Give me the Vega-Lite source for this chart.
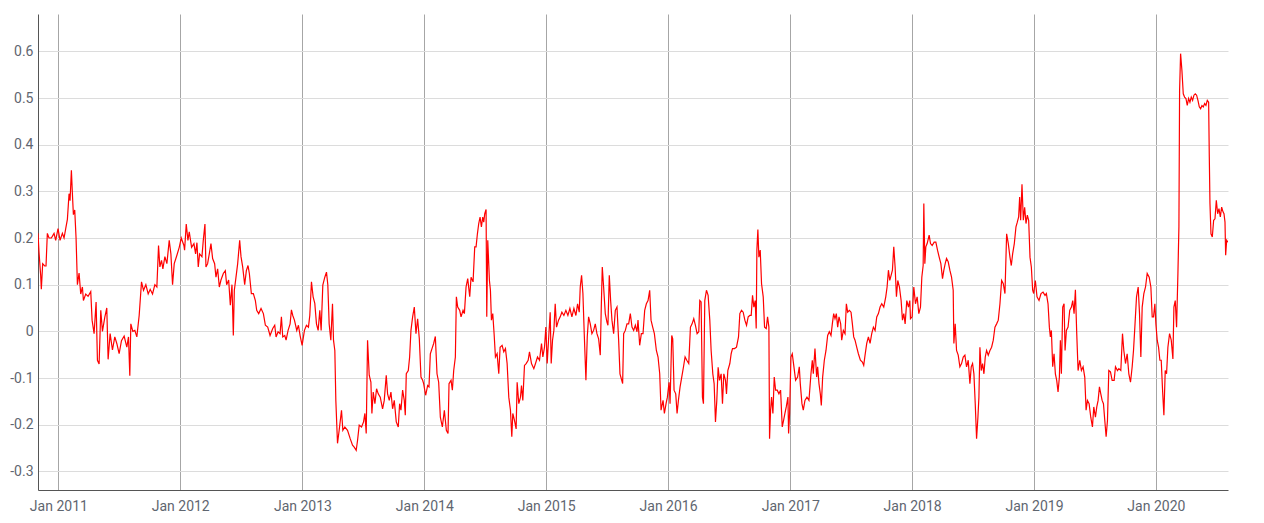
{
"$schema": "https://vega.github.io/schema/vega-lite/v6.json",
"width": 1190, "height": 476,
"autosize": "none",
"padding": {"left": 38, "top": 14, "right": 36, "bottom": 33},
"background": "white",
"config": {"view": {"stroke": null}},
"data": {"values": [
{"date":"2010-11-01","value":0.21},{"date":"2010-11-04","value":0.17},{"date":"2010-11-09","value":0.12},{"date":"2010-11-11","value":0.09},{"date":"2010-11-15","value":0.145},{"date":"2010-11-21","value":0.14},{"date":"2010-11-25","value":0.14},{"date":"2010-11-29","value":0.21},{"date":"2010-12-04","value":0.2},{"date":"2010-12-11","value":0.2},{"date":"2010-12-19","value":0.21},{"date":"2010-12-24","value":0.195},{"date":"2010-12-31","value":0.22},
{"date":"2011-01-06","value":0.195},{"date":"2011-01-13","value":0.21},{"date":"2011-01-18","value":0.2},{"date":"2011-01-23","value":0.22},{"date":"2011-01-28","value":0.24},{"date":"2011-02-02","value":0.295},{"date":"2011-02-05","value":0.28},{"date":"2011-02-09","value":0.345},{"date":"2011-02-12","value":0.295},{"date":"2011-02-15","value":0.25},{"date":"2011-02-19","value":0.26},{"date":"2011-02-23","value":0.2},{"date":"2011-02-27","value":0.1},{"date":"2011-03-04","value":0.125},{"date":"2011-03-09","value":0.08},{"date":"2011-03-14","value":0.095},{"date":"2011-03-17","value":0.066},{"date":"2011-03-24","value":0.08},{"date":"2011-03-31","value":0.075},{"date":"2011-04-08","value":0.085},{"date":"2011-04-12","value":0.024},{"date":"2011-04-18","value":-0.005},{"date":"2011-04-24","value":0.063},{"date":"2011-04-28","value":-0.062},{"date":"2011-05-03","value":-0.07},{"date":"2011-05-08","value":0.045},{"date":"2011-05-13","value":0.0},{"date":"2011-05-20","value":0.03},{"date":"2011-05-26","value":0.05},{"date":"2011-05-30","value":-0.06},{"date":"2011-06-05","value":-0.005},{"date":"2011-06-12","value":-0.04},{"date":"2011-06-19","value":-0.012},{"date":"2011-06-25","value":-0.026},{"date":"2011-07-02","value":-0.048},{"date":"2011-07-09","value":-0.02},{"date":"2011-07-17","value":-0.01},{"date":"2011-07-25","value":-0.034},{"date":"2011-07-30","value":-0.012},{"date":"2011-08-03","value":-0.095},{"date":"2011-08-06","value":0.016},{"date":"2011-08-12","value":0.0},{"date":"2011-08-18","value":0.002},{"date":"2011-08-24","value":-0.012},{"date":"2011-08-31","value":0.034},{"date":"2011-09-07","value":0.106},{"date":"2011-09-13","value":0.088},{"date":"2011-09-20","value":0.1},{"date":"2011-09-27","value":0.08},{"date":"2011-10-03","value":0.09},{"date":"2011-10-10","value":0.08},{"date":"2011-10-17","value":0.1},{"date":"2011-10-23","value":0.095},{"date":"2011-10-28","value":0.184},{"date":"2011-11-01","value":0.138},{"date":"2011-11-06","value":0.152},{"date":"2011-11-10","value":0.134},{"date":"2011-11-16","value":0.16},{"date":"2011-11-22","value":0.145},{"date":"2011-11-29","value":0.195},{"date":"2011-12-04","value":0.166},{"date":"2011-12-09","value":0.1},{"date":"2011-12-14","value":0.145},{"date":"2011-12-22","value":0.163},{"date":"2011-12-29","value":0.18},
{"date":"2012-01-04","value":0.2},{"date":"2012-01-12","value":0.184},{"date":"2012-01-14","value":0.174},{"date":"2012-01-19","value":0.23},{"date":"2012-01-24","value":0.195},{"date":"2012-01-28","value":0.213},{"date":"2012-02-04","value":0.18},{"date":"2012-02-11","value":0.188},{"date":"2012-02-16","value":0.166},{"date":"2012-02-20","value":0.19},{"date":"2012-02-24","value":0.138},{"date":"2012-02-28","value":0.166},{"date":"2012-03-06","value":0.16},{"date":"2012-03-10","value":0.195},{"date":"2012-03-15","value":0.23},{"date":"2012-03-18","value":0.138},{"date":"2012-03-23","value":0.145},{"date":"2012-03-28","value":0.166},{"date":"2012-04-02","value":0.188},{"date":"2012-04-07","value":0.156},{"date":"2012-04-13","value":0.145},{"date":"2012-04-17","value":0.116},{"date":"2012-04-22","value":0.134},{"date":"2012-04-27","value":0.095},{"date":"2012-05-02","value":0.11},{"date":"2012-05-09","value":0.124},{"date":"2012-05-15","value":0.13},{"date":"2012-05-19","value":0.1},{"date":"2012-05-25","value":0.11},{"date":"2012-05-30","value":0.056},{"date":"2012-06-04","value":0.1},{"date":"2012-06-08","value":-0.009},{"date":"2012-06-11","value":0.088},{"date":"2012-06-16","value":0.116},{"date":"2012-06-21","value":0.145},{"date":"2012-06-27","value":0.195},{"date":"2012-07-01","value":0.16},{"date":"2012-07-06","value":0.138},{"date":"2012-07-12","value":0.1},{"date":"2012-07-17","value":0.13},{"date":"2012-07-22","value":0.141},{"date":"2012-07-26","value":0.124},{"date":"2012-08-01","value":0.081},{"date":"2012-08-07","value":0.081},{"date":"2012-08-13","value":0.066},{"date":"2012-08-17","value":0.045},{"date":"2012-08-23","value":0.038},{"date":"2012-08-30","value":0.049},{"date":"2012-09-06","value":0.038},{"date":"2012-09-12","value":0.013},{"date":"2012-09-19","value":0.009},{"date":"2012-09-26","value":-0.009},{"date":"2012-10-04","value":0.006},{"date":"2012-10-10","value":0.013},{"date":"2012-10-14","value":-0.012},{"date":"2012-10-20","value":-0.001},{"date":"2012-10-26","value":-0.005},{"date":"2012-10-30","value":0.031},{"date":"2012-11-03","value":-0.012},{"date":"2012-11-09","value":-0.009},{"date":"2012-11-13","value":-0.019},{"date":"2012-11-19","value":0.002},{"date":"2012-11-25","value":0.016},{"date":"2012-11-29","value":0.046},{"date":"2012-12-03","value":0.034},{"date":"2012-12-08","value":0.024},{"date":"2012-12-15","value":0.002},{"date":"2012-12-20","value":0.013},{"date":"2012-12-25","value":-0.009},{"date":"2012-12-31","value":-0.03},
{"date":"2013-01-07","value":0.002},{"date":"2013-01-13","value":0.013},{"date":"2013-01-19","value":0.009},{"date":"2013-01-23","value":0.034},{"date":"2013-01-28","value":0.106},{"date":"2013-02-02","value":0.074},{"date":"2013-02-07","value":0.06},{"date":"2013-02-12","value":0.016},{"date":"2013-02-17","value":0.002},{"date":"2013-02-22","value":0.045},{"date":"2013-02-26","value":0.002},{"date":"2013-03-03","value":0.099},{"date":"2013-03-09","value":0.116},{"date":"2013-03-14","value":0.127},{"date":"2013-03-18","value":0.1},{"date":"2013-03-22","value":0.016},{"date":"2013-03-27","value":-0.019},{"date":"2013-04-01","value":0.059},{"date":"2013-04-04","value":-0.019},{"date":"2013-04-08","value":-0.041},{"date":"2013-04-11","value":-0.148},{"date":"2013-04-16","value":-0.24},{"date":"2013-04-21","value":-0.212},{"date":"2013-04-28","value":-0.169},{"date":"2013-05-02","value":-0.212},{"date":"2013-05-08","value":-0.205},{"date":"2013-05-16","value":-0.212},{"date":"2013-05-24","value":-0.23},{"date":"2013-05-31","value":-0.244},{"date":"2013-06-05","value":-0.248},{"date":"2013-06-11","value":-0.255},{"date":"2013-06-15","value":-0.234},{"date":"2013-06-20","value":-0.201},{"date":"2013-06-27","value":-0.205},{"date":"2013-07-03","value":-0.194},{"date":"2013-07-07","value":-0.176},{"date":"2013-07-11","value":-0.219},{"date":"2013-07-15","value":-0.019},{"date":"2013-07-20","value":-0.094},{"date":"2013-07-25","value":-0.109},{"date":"2013-07-28","value":-0.176},{"date":"2013-08-01","value":-0.13},{"date":"2013-08-06","value":-0.155},{"date":"2013-08-11","value":-0.123},{"date":"2013-08-16","value":-0.134},{"date":"2013-08-22","value":-0.141},{"date":"2013-08-29","value":-0.166},{"date":"2013-09-03","value":-0.148},{"date":"2013-09-09","value":-0.094},{"date":"2013-09-13","value":-0.134},{"date":"2013-09-18","value":-0.148},{"date":"2013-09-23","value":-0.13},{"date":"2013-09-28","value":-0.166},{"date":"2013-10-03","value":-0.148},{"date":"2013-10-09","value":-0.194},{"date":"2013-10-15","value":-0.205},{"date":"2013-10-19","value":-0.155},{"date":"2013-10-23","value":-0.169},{"date":"2013-10-28","value":-0.126},{"date":"2013-11-02","value":-0.148},{"date":"2013-11-05","value":-0.18},{"date":"2013-11-08","value":-0.091},{"date":"2013-11-14","value":-0.084},{"date":"2013-11-18","value":-0.055},{"date":"2013-11-22","value":0.002},{"date":"2013-11-27","value":0.031},{"date":"2013-12-02","value":0.052},{"date":"2013-12-07","value":-0.005},{"date":"2013-12-12","value":0.027},{"date":"2013-12-17","value":-0.016},{"date":"2013-12-22","value":-0.098},{"date":"2013-12-27","value":-0.105},{"date":"2013-12-30","value":-0.112},
{"date":"2014-01-05","value":-0.137},{"date":"2014-01-11","value":-0.116},{"date":"2014-01-15","value":-0.119},{"date":"2014-01-19","value":-0.048},{"date":"2014-01-24","value":-0.037},{"date":"2014-01-29","value":-0.026},{"date":"2014-02-03","value":-0.011},{"date":"2014-02-08","value":-0.091},{"date":"2014-02-13","value":-0.109},{"date":"2014-02-18","value":-0.184},{"date":"2014-02-24","value":-0.205},{"date":"2014-03-02","value":-0.169},{"date":"2014-03-08","value":-0.212},{"date":"2014-03-13","value":-0.219},{"date":"2014-03-16","value":-0.112},{"date":"2014-03-22","value":-0.105},{"date":"2014-03-26","value":-0.126},{"date":"2014-03-30","value":-0.084},{"date":"2014-04-04","value":-0.055},{"date":"2014-04-07","value":0.074},{"date":"2014-04-11","value":0.052},{"date":"2014-04-17","value":0.045},{"date":"2014-04-21","value":0.031},{"date":"2014-04-27","value":0.045},{"date":"2014-05-01","value":0.038},{"date":"2014-05-06","value":0.095},{"date":"2014-05-11","value":0.113},{"date":"2014-05-17","value":0.074},{"date":"2014-05-21","value":0.116},{"date":"2014-05-27","value":0.106},{"date":"2014-06-01","value":0.181},{"date":"2014-06-05","value":0.181},{"date":"2014-06-09","value":0.209},{"date":"2014-06-13","value":0.231},{"date":"2014-06-17","value":0.245},{"date":"2014-06-21","value":0.224},{"date":"2014-06-25","value":0.245},{"date":"2014-06-28","value":0.234},{"date":"2014-07-01","value":0.252},{"date":"2014-07-05","value":0.261},{"date":"2014-07-07","value":0.031},{"date":"2014-07-10","value":0.195},{"date":"2014-07-15","value":0.109},{"date":"2014-07-18","value":0.088},{"date":"2014-07-21","value":0.024},{"date":"2014-07-25","value":0.038},{"date":"2014-07-29","value":-0.005},{"date":"2014-08-02","value":-0.055},{"date":"2014-08-07","value":-0.048},{"date":"2014-08-12","value":-0.091},{"date":"2014-08-16","value":-0.034},{"date":"2014-08-22","value":-0.03},{"date":"2014-08-27","value":-0.044},{"date":"2014-09-01","value":-0.037},{"date":"2014-09-06","value":-0.069},{"date":"2014-09-11","value":-0.141},{"date":"2014-09-16","value":-0.169},{"date":"2014-09-20","value":-0.226},{"date":"2014-09-23","value":-0.176},{"date":"2014-09-28","value":-0.191},{"date":"2014-10-03","value":-0.209},{"date":"2014-10-06","value":-0.109},{"date":"2014-10-11","value":-0.155},{"date":"2014-10-16","value":-0.141},{"date":"2014-10-19","value":-0.116},{"date":"2014-10-23","value":-0.148},{"date":"2014-10-28","value":-0.073},{"date":"2014-11-02","value":-0.069},{"date":"2014-11-08","value":-0.062},{"date":"2014-11-12","value":-0.044},{"date":"2014-11-18","value":-0.069},{"date":"2014-11-25","value":-0.08},{"date":"2014-11-30","value":-0.069},{"date":"2014-12-06","value":-0.055},{"date":"2014-12-12","value":-0.062},{"date":"2014-12-18","value":-0.026},{"date":"2014-12-22","value":-0.055},{"date":"2014-12-27","value":-0.034},{"date":"2014-12-31","value":0.009},
{"date":"2015-01-04","value":-0.069},{"date":"2015-01-08","value":-0.019},{"date":"2015-01-13","value":0.041},{"date":"2015-01-16","value":-0.069},{"date":"2015-01-20","value":-0.019},{"date":"2015-01-24","value":0.002},{"date":"2015-01-28","value":0.059},{"date":"2015-02-01","value":0.009},{"date":"2015-02-07","value":0.024},{"date":"2015-02-12","value":0.031},{"date":"2015-02-17","value":0.041},{"date":"2015-02-23","value":0.034},{"date":"2015-03-01","value":0.045},{"date":"2015-03-07","value":0.034},{"date":"2015-03-13","value":0.049},{"date":"2015-03-19","value":0.031},{"date":"2015-03-25","value":0.049},{"date":"2015-03-31","value":0.034},{"date":"2015-04-05","value":0.059},{"date":"2015-04-10","value":0.041},{"date":"2015-04-13","value":0.095},{"date":"2015-04-17","value":0.12},{"date":"2015-04-21","value":0.081},{"date":"2015-04-25","value":-0.005},{"date":"2015-04-30","value":-0.105},{"date":"2015-05-04","value":-0.012},{"date":"2015-05-08","value":0.031},{"date":"2015-05-13","value":0.016},{"date":"2015-05-18","value":-0.005},{"date":"2015-05-23","value":0.002},{"date":"2015-05-28","value":0.016},{"date":"2015-06-02","value":-0.005},{"date":"2015-06-07","value":-0.016},{"date":"2015-06-12","value":-0.051},{"date":"2015-06-15","value":0.052},{"date":"2015-06-18","value":0.138},{"date":"2015-06-22","value":0.095},{"date":"2015-06-27","value":0.038},{"date":"2015-07-02","value":0.02},{"date":"2015-07-05","value":0.013},{"date":"2015-07-09","value":0.12},{"date":"2015-07-13","value":0.066},{"date":"2015-07-17","value":0.024},{"date":"2015-07-22","value":-0.005},{"date":"2015-07-27","value":0.045},{"date":"2015-08-01","value":0.052},{"date":"2015-08-06","value":-0.019},{"date":"2015-08-10","value":-0.091},{"date":"2015-08-18","value":-0.112},{"date":"2015-08-21","value":-0.005},{"date":"2015-08-26","value":0.002},{"date":"2015-08-31","value":0.016},{"date":"2015-09-05","value":0.016},{"date":"2015-09-10","value":0.038},{"date":"2015-09-15","value":0.009},{"date":"2015-09-20","value":0.002},{"date":"2015-09-25","value":0.013},{"date":"2015-09-30","value":-0.001},{"date":"2015-10-03","value":0.024},{"date":"2015-10-08","value":-0.03},{"date":"2015-10-13","value":-0.005},{"date":"2015-10-18","value":-0.005},{"date":"2015-10-23","value":0.045},{"date":"2015-10-28","value":0.059},{"date":"2015-11-02","value":0.066},{"date":"2015-11-07","value":0.088},{"date":"2015-11-11","value":0.024},{"date":"2015-11-16","value":0.009},{"date":"2015-11-21","value":-0.005},{"date":"2015-11-27","value":-0.041},{"date":"2015-12-02","value":-0.055},{"date":"2015-12-07","value":-0.091},{"date":"2015-12-11","value":-0.169},{"date":"2015-12-17","value":-0.148},{"date":"2015-12-21","value":-0.176},{"date":"2015-12-26","value":-0.155},{"date":"2015-12-30","value":-0.141},
{"date":"2016-01-04","value":-0.109},{"date":"2016-01-07","value":-0.155},{"date":"2016-01-12","value":-0.009},{"date":"2016-01-15","value":-0.016},{"date":"2016-01-19","value":-0.126},{"date":"2016-01-24","value":-0.134},{"date":"2016-01-28","value":-0.176},{"date":"2016-02-01","value":-0.148},{"date":"2016-02-06","value":-0.119},{"date":"2016-02-11","value":-0.098},{"date":"2016-02-16","value":-0.077},{"date":"2016-02-21","value":-0.055},{"date":"2016-02-26","value":-0.062},{"date":"2016-03-03","value":-0.069},{"date":"2016-03-08","value":0.009},{"date":"2016-03-13","value":0.016},{"date":"2016-03-18","value":0.027},{"date":"2016-03-23","value":0.013},{"date":"2016-03-28","value":-0.005},{"date":"2016-04-02","value":-0.001},{"date":"2016-04-05","value":0.066},{"date":"2016-04-09","value":0.063},{"date":"2016-04-13","value":-0.141},{"date":"2016-04-16","value":-0.155},{"date":"2016-04-20","value":0.066},{"date":"2016-04-25","value":0.088},{"date":"2016-04-30","value":0.077},{"date":"2016-05-05","value":0.024},{"date":"2016-05-09","value":-0.041},{"date":"2016-05-14","value":-0.091},{"date":"2016-05-18","value":-0.112},{"date":"2016-05-22","value":-0.194},{"date":"2016-05-26","value":-0.148},{"date":"2016-05-30","value":-0.077},{"date":"2016-06-03","value":-0.105},{"date":"2016-06-08","value":-0.091},{"date":"2016-06-12","value":-0.155},{"date":"2016-06-16","value":-0.091},{"date":"2016-06-21","value":-0.105},{"date":"2016-06-24","value":-0.134},{"date":"2016-06-28","value":-0.084},{"date":"2016-07-04","value":-0.069},{"date":"2016-07-08","value":-0.048},{"date":"2016-07-12","value":-0.037},{"date":"2016-07-18","value":-0.037},{"date":"2016-07-24","value":-0.034},{"date":"2016-07-30","value":-0.012},{"date":"2016-08-03","value":0.038},{"date":"2016-08-08","value":0.045},{"date":"2016-08-13","value":0.041},{"date":"2016-08-18","value":0.024},{"date":"2016-08-23","value":0.013},{"date":"2016-08-28","value":0.031},{"date":"2016-09-02","value":0.034},{"date":"2016-09-06","value":0.034},{"date":"2016-09-10","value":0.077},{"date":"2016-09-14","value":0.052},{"date":"2016-09-18","value":0.066},{"date":"2016-09-21","value":0.006},{"date":"2016-09-23","value":0.174},{"date":"2016-09-26","value":0.218},{"date":"2016-09-29","value":0.159},{"date":"2016-10-03","value":0.174},{"date":"2016-10-07","value":0.102},{"date":"2016-10-12","value":0.074},{"date":"2016-10-16","value":0.009},{"date":"2016-10-21","value":0.006},{"date":"2016-10-25","value":0.031},{"date":"2016-10-29","value":0.009},{"date":"2016-10-31","value":-0.23},{"date":"2016-11-03","value":-0.169},{"date":"2016-11-06","value":-0.141},{"date":"2016-11-10","value":-0.176},{"date":"2016-11-14","value":-0.098},{"date":"2016-11-18","value":-0.126},{"date":"2016-11-23","value":-0.126},{"date":"2016-11-28","value":-0.134},{"date":"2016-12-03","value":-0.126},{"date":"2016-12-08","value":-0.205},{"date":"2016-12-12","value":-0.191},{"date":"2016-12-16","value":-0.176},{"date":"2016-12-20","value":-0.162},{"date":"2016-12-25","value":-0.141},{"date":"2016-12-27","value":-0.219},{"date":"2016-12-30","value":-0.176},
{"date":"2017-01-03","value":-0.055},{"date":"2017-01-07","value":-0.048},{"date":"2017-01-12","value":-0.076},{"date":"2017-01-17","value":-0.105},{"date":"2017-01-23","value":-0.098},{"date":"2017-01-28","value":-0.076},{"date":"2017-01-31","value":-0.112},{"date":"2017-02-05","value":-0.155},{"date":"2017-02-09","value":-0.169},{"date":"2017-02-14","value":-0.148},{"date":"2017-02-20","value":-0.141},{"date":"2017-02-26","value":-0.148},{"date":"2017-03-04","value":-0.091},{"date":"2017-03-08","value":-0.062},{"date":"2017-03-11","value":-0.091},{"date":"2017-03-16","value":-0.037},{"date":"2017-03-21","value":-0.098},{"date":"2017-03-24","value":-0.076},{"date":"2017-03-28","value":-0.112},{"date":"2017-04-01","value":-0.134},{"date":"2017-04-04","value":-0.159},{"date":"2017-04-08","value":-0.098},{"date":"2017-04-13","value":-0.062},{"date":"2017-04-18","value":-0.041},{"date":"2017-04-23","value":-0.009},{"date":"2017-04-28","value":-0.001},{"date":"2017-05-03","value":-0.009},{"date":"2017-05-07","value":0.016},{"date":"2017-05-11","value":0.038},{"date":"2017-05-15","value":0.027},{"date":"2017-05-19","value":0.038},{"date":"2017-05-23","value":0.009},{"date":"2017-05-27","value":0.031},{"date":"2017-06-01","value":0.016},{"date":"2017-06-04","value":-0.019},{"date":"2017-06-09","value":0.002},{"date":"2017-06-14","value":-0.005},{"date":"2017-06-18","value":0.059},{"date":"2017-06-22","value":0.041},{"date":"2017-06-27","value":0.045},{"date":"2017-07-02","value":0.041},{"date":"2017-07-06","value":0.016},{"date":"2017-07-10","value":-0.012},{"date":"2017-07-14","value":-0.019},{"date":"2017-07-19","value":-0.034},{"date":"2017-07-24","value":-0.048},{"date":"2017-07-30","value":-0.062},{"date":"2017-08-05","value":-0.066},{"date":"2017-08-09","value":-0.073},{"date":"2017-08-13","value":-0.051},{"date":"2017-08-18","value":-0.026},{"date":"2017-08-23","value":-0.012},{"date":"2017-08-28","value":-0.026},{"date":"2017-09-02","value":-0.005},{"date":"2017-09-07","value":0.009},{"date":"2017-09-12","value":0.002},{"date":"2017-09-17","value":0.031},{"date":"2017-09-22","value":0.038},{"date":"2017-09-27","value":0.052},{"date":"2017-10-02","value":0.059},{"date":"2017-10-08","value":0.052},{"date":"2017-10-14","value":0.074},{"date":"2017-10-18","value":0.095},{"date":"2017-10-22","value":0.131},{"date":"2017-10-26","value":0.109},{"date":"2017-10-30","value":0.12},{"date":"2017-11-03","value":0.131},{"date":"2017-11-07","value":0.181},{"date":"2017-11-11","value":0.138},{"date":"2017-11-15","value":0.074},{"date":"2017-11-19","value":0.109},{"date":"2017-11-24","value":0.095},{"date":"2017-11-29","value":0.066},{"date":"2017-12-03","value":0.024},{"date":"2017-12-07","value":0.038},{"date":"2017-12-11","value":0.016},{"date":"2017-12-16","value":0.066},{"date":"2017-12-21","value":0.052},{"date":"2017-12-25","value":0.066},{"date":"2017-12-27","value":0.027},
{"date":"2018-01-01","value":0.031},{"date":"2018-01-06","value":0.095},{"date":"2018-01-11","value":0.059},{"date":"2018-01-16","value":0.074},{"date":"2018-01-21","value":0.038},{"date":"2018-01-26","value":0.052},{"date":"2018-01-30","value":0.116},{"date":"2018-02-03","value":0.141},{"date":"2018-02-05","value":0.274},{"date":"2018-02-08","value":0.145},{"date":"2018-02-11","value":0.181},{"date":"2018-02-15","value":0.188},{"date":"2018-02-21","value":0.206},{"date":"2018-02-25","value":0.188},{"date":"2018-03-02","value":0.184},{"date":"2018-03-08","value":0.191},{"date":"2018-03-13","value":0.191},{"date":"2018-03-18","value":0.174},{"date":"2018-03-23","value":0.159},{"date":"2018-03-28","value":0.145},{"date":"2018-04-02","value":0.113},{"date":"2018-04-06","value":0.131},{"date":"2018-04-10","value":0.145},{"date":"2018-04-14","value":0.156},{"date":"2018-04-19","value":0.149},{"date":"2018-04-24","value":0.131},{"date":"2018-04-29","value":0.116},{"date":"2018-05-04","value":0.088},{"date":"2018-05-06","value":-0.026},{"date":"2018-05-10","value":0.016},{"date":"2018-05-14","value":-0.041},{"date":"2018-05-19","value":-0.051},{"date":"2018-05-24","value":-0.076},{"date":"2018-05-29","value":-0.069},{"date":"2018-06-03","value":-0.055},{"date":"2018-06-08","value":-0.051},{"date":"2018-06-13","value":-0.076},{"date":"2018-06-18","value":-0.062},{"date":"2018-06-23","value":-0.112},{"date":"2018-06-27","value":-0.076},{"date":"2018-07-01","value":-0.069},{"date":"2018-07-05","value":-0.091},{"date":"2018-07-09","value":-0.155},{"date":"2018-07-13","value":-0.23},{"date":"2018-07-17","value":-0.184},{"date":"2018-07-20","value":-0.141},{"date":"2018-07-23","value":-0.034},{"date":"2018-07-27","value":-0.084},{"date":"2018-07-31","value":-0.069},{"date":"2018-08-04","value":-0.091},{"date":"2018-08-08","value":-0.055},{"date":"2018-08-12","value":-0.041},{"date":"2018-08-17","value":-0.051},{"date":"2018-08-22","value":-0.041},{"date":"2018-08-27","value":-0.034},{"date":"2018-09-01","value":-0.019},{"date":"2018-09-06","value":0.009},{"date":"2018-09-11","value":0.016},{"date":"2018-09-16","value":0.024},{"date":"2018-09-21","value":0.059},{"date":"2018-09-26","value":0.109},{"date":"2018-10-01","value":0.102},{"date":"2018-10-06","value":0.081},{"date":"2018-10-11","value":0.209},{"date":"2018-10-16","value":0.188},{"date":"2018-10-21","value":0.159},{"date":"2018-10-25","value":0.141},{"date":"2018-10-29","value":0.166},{"date":"2018-11-03","value":0.188},{"date":"2018-11-08","value":0.224},{"date":"2018-11-12","value":0.234},{"date":"2018-11-16","value":0.245},{"date":"2018-11-19","value":0.288},{"date":"2018-11-22","value":0.238},{"date":"2018-11-26","value":0.315},{"date":"2018-11-30","value":0.238},{"date":"2018-12-04","value":0.266},{"date":"2018-12-08","value":0.231},{"date":"2018-12-12","value":0.249},{"date":"2018-12-16","value":0.238},{"date":"2018-12-20","value":0.159},{"date":"2018-12-24","value":0.138},{"date":"2018-12-28","value":0.088},{"date":"2018-12-31","value":0.081},
{"date":"2019-01-05","value":0.109},{"date":"2019-01-10","value":0.074},{"date":"2019-01-16","value":0.066},{"date":"2019-01-22","value":0.081},{"date":"2019-01-28","value":0.084},{"date":"2019-02-03","value":0.077},{"date":"2019-02-07","value":0.081},{"date":"2019-02-12","value":0.059},{"date":"2019-02-16","value":0.009},{"date":"2019-02-19","value":-0.012},{"date":"2019-02-22","value":0.002},{"date":"2019-02-26","value":-0.076},{"date":"2019-03-02","value":-0.048},{"date":"2019-03-06","value":-0.091},{"date":"2019-03-10","value":-0.105},{"date":"2019-03-14","value":-0.13},{"date":"2019-03-18","value":-0.098},{"date":"2019-03-21","value":-0.019},{"date":"2019-03-24","value":-0.091},{"date":"2019-03-28","value":0.052},{"date":"2019-04-01","value":0.059},{"date":"2019-04-04","value":-0.041},{"date":"2019-04-08","value":0.002},{"date":"2019-04-13","value":0.009},{"date":"2019-04-18","value":0.045},{"date":"2019-04-23","value":0.052},{"date":"2019-04-27","value":0.066},{"date":"2019-05-01","value":0.038},{"date":"2019-05-05","value":0.089},{"date":"2019-05-09","value":-0.005},{"date":"2019-05-13","value":-0.084},{"date":"2019-05-18","value":-0.062},{"date":"2019-05-23","value":-0.084},{"date":"2019-05-28","value":-0.076},{"date":"2019-06-02","value":-0.098},{"date":"2019-06-06","value":-0.169},{"date":"2019-06-10","value":-0.148},{"date":"2019-06-15","value":-0.155},{"date":"2019-06-20","value":-0.184},{"date":"2019-06-25","value":-0.205},{"date":"2019-06-29","value":-0.162},{"date":"2019-07-04","value":-0.184},{"date":"2019-07-08","value":-0.162},{"date":"2019-07-12","value":-0.148},{"date":"2019-07-16","value":-0.119},{"date":"2019-07-20","value":-0.134},{"date":"2019-07-24","value":-0.148},{"date":"2019-07-28","value":-0.155},{"date":"2019-08-01","value":-0.191},{"date":"2019-08-05","value":-0.226},{"date":"2019-08-09","value":-0.191},{"date":"2019-08-13","value":-0.084},{"date":"2019-08-18","value":-0.087},{"date":"2019-08-23","value":-0.105},{"date":"2019-08-29","value":-0.105},{"date":"2019-09-02","value":-0.076},{"date":"2019-09-08","value":-0.084},{"date":"2019-09-12","value":-0.08},{"date":"2019-09-18","value":-0.084},{"date":"2019-09-23","value":-0.005},{"date":"2019-09-27","value":-0.041},{"date":"2019-10-02","value":-0.069},{"date":"2019-10-07","value":-0.048},{"date":"2019-10-12","value":-0.091},{"date":"2019-10-17","value":-0.109},{"date":"2019-10-22","value":-0.076},{"date":"2019-10-26","value":-0.041},{"date":"2019-10-30","value":0.009},{"date":"2019-11-04","value":0.074},{"date":"2019-11-09","value":0.095},{"date":"2019-11-13","value":0.038},{"date":"2019-11-17","value":-0.055},{"date":"2019-11-21","value":0.052},{"date":"2019-11-26","value":0.081},{"date":"2019-12-01","value":0.095},{"date":"2019-12-06","value":0.124},{"date":"2019-12-12","value":0.116},{"date":"2019-12-17","value":0.095},{"date":"2019-12-21","value":0.031},{"date":"2019-12-25","value":0.031},{"date":"2019-12-29","value":0.059},
{"date":"2020-01-01","value":0.016},{"date":"2020-01-05","value":-0.019},{"date":"2020-01-09","value":-0.034},{"date":"2020-01-13","value":-0.062},{"date":"2020-01-17","value":-0.062},{"date":"2020-01-21","value":-0.126},{"date":"2020-01-25","value":-0.18},{"date":"2020-01-29","value":-0.084},{"date":"2020-02-02","value":-0.091},{"date":"2020-02-06","value":-0.034},{"date":"2020-02-11","value":-0.005},{"date":"2020-02-16","value":-0.019},{"date":"2020-02-21","value":-0.059},{"date":"2020-02-24","value":0.052},{"date":"2020-02-28","value":0.066},{"date":"2020-03-03","value":0.009},{"date":"2020-03-07","value":0.124},{"date":"2020-03-10","value":0.224},{"date":"2020-03-12","value":0.516},{"date":"2020-03-15","value":0.595},{"date":"2020-03-19","value":0.559},{"date":"2020-03-23","value":0.509},{"date":"2020-03-27","value":0.502},{"date":"2020-03-31","value":0.499},{"date":"2020-04-04","value":0.484},{"date":"2020-04-08","value":0.499},{"date":"2020-04-12","value":0.491},{"date":"2020-04-16","value":0.502},{"date":"2020-04-20","value":0.495},{"date":"2020-04-24","value":0.506},{"date":"2020-04-28","value":0.509},{"date":"2020-05-02","value":0.506},{"date":"2020-05-06","value":0.495},{"date":"2020-05-10","value":0.481},{"date":"2020-05-14","value":0.477},{"date":"2020-05-18","value":0.484},{"date":"2020-05-22","value":0.481},{"date":"2020-05-26","value":0.488},{"date":"2020-05-30","value":0.484},{"date":"2020-06-03","value":0.495},{"date":"2020-06-07","value":0.491},{"date":"2020-06-09","value":0.374},{"date":"2020-06-11","value":0.274},{"date":"2020-06-14","value":0.209},{"date":"2020-06-18","value":0.202},{"date":"2020-06-22","value":0.238},{"date":"2020-06-26","value":0.241},{"date":"2020-06-30","value":0.281},{"date":"2020-07-04","value":0.252},{"date":"2020-07-08","value":0.263},{"date":"2020-07-12","value":0.245},{"date":"2020-07-16","value":0.266},{"date":"2020-07-20","value":0.256},{"date":"2020-07-23","value":0.252},{"date":"2020-07-26","value":0.234},{"date":"2020-07-28","value":0.163},{"date":"2020-07-31","value":0.195},{"date":"2020-08-04","value":0.191}
]},
"mark": {"type": "line", "color": "#ff0000", "strokeWidth": 1.2, "clip": true},
"encoding": {
  "x": {"field": "date", "type": "temporal",
    "scale": {"nice": false},
    "axis": {"title": null, "format": "%b %Y", "tickCount": {"interval": "year", "step": 1},
      "grid": true, "gridColor": "#a6a6a6", "gridWidth": 1, "ticks": false, "tickSize": 0,
      "domainColor": "#555555", "domainWidth": 1,
      "labelFont": "Roboto", "labelFontSize": 14, "labelColor": "#5f6670", "labelPadding": 9,
      "labelFlush": false, "labelOverlap": false}},
  "y": {"field": "value", "type": "quantitative",
    "scale": {"domain": [-0.34, 0.68], "nice": false, "zero": false},
    "axis": {"title": null, "values": [-0.3, -0.2, -0.1, 0, 0.1, 0.2, 0.3, 0.4, 0.5, 0.6],
      "labelExpr": "datum.value == 0 ? '0' : toString(round(datum.value * 10) / 10)",
      "grid": true, "gridColor": "#dcdcdc", "gridWidth": 1, "ticks": false, "tickSize": 0,
      "domainColor": "#555555", "domainWidth": 1,
      "labelFont": "Roboto", "labelFontSize": 14, "labelColor": "#5f6670", "labelPadding": 5}}
}
}
